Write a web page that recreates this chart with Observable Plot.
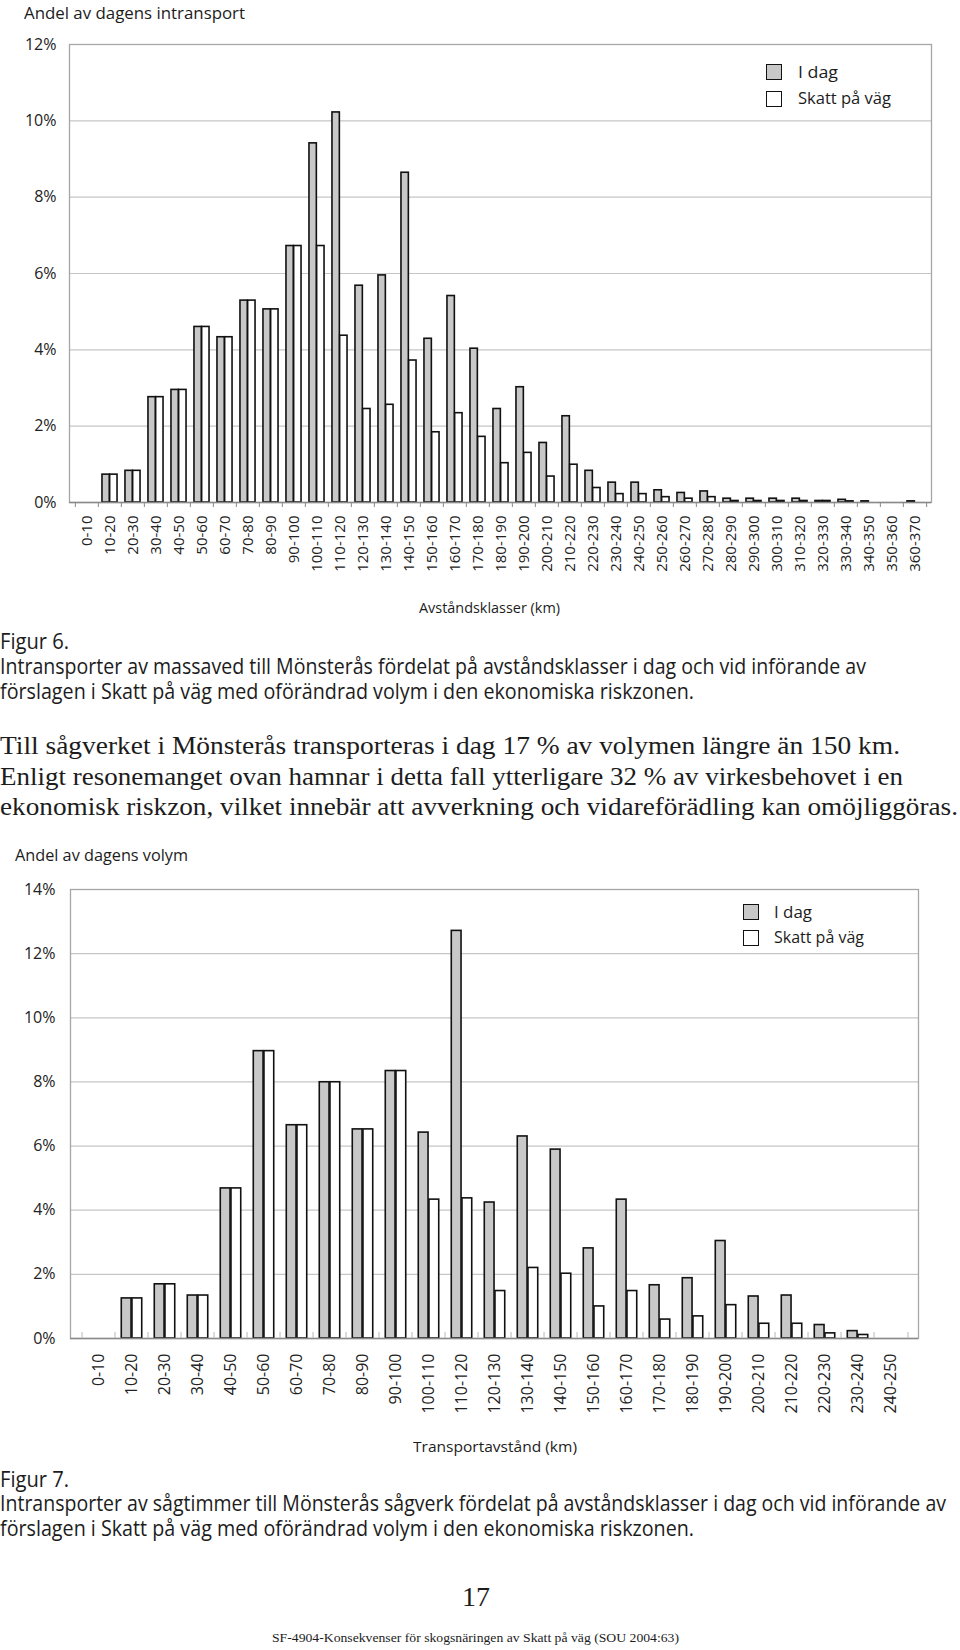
<!DOCTYPE html>
<html><head><meta charset="utf-8">
<script src="https://cdn.jsdelivr.net/npm/d3@7"></script>
<script src="https://cdn.jsdelivr.net/npm/@observablehq/plot@0.6"></script>
<style>
html,body{margin:0;padding:0;background:#fff;overflow:hidden}
#page{position:relative;width:960px;height:1650px;overflow:hidden}
#page svg{position:absolute;left:0}
.t{position:absolute;white-space:nowrap;line-height:1;color:#1c1c1c}
.sw{position:absolute;box-sizing:border-box;border:1.6px solid #111}
</style></head><body><div id="page"></div>
<script>
// ---- Figur 6 data ----
const cats1 = ["0-10","10-20","20-30","30-40","40-50","50-60","60-70","70-80","80-90","90-100","100-110","110-120","120-130","130-140","140-150","150-160","160-170","170-180","180-190","190-200","200-210","210-220","220-230","230-240","240-250","250-260","260-270","270-280","280-290","290-300","300-310","310-320","320-330","330-340","340-350","350-360","360-370"];
const idag1 = [0,0.73,0.83,2.76,2.95,4.60,4.33,5.29,5.06,6.72,9.41,10.22,5.68,5.95,8.64,4.29,5.41,4.03,2.45,3.02,1.56,2.26,0.83,0.52,0.52,0.32,0.25,0.29,0.10,0.10,0.10,0.10,0.04,0.07,0.03,0,0.03];
const skatt1 = [0,0.73,0.83,2.76,2.95,4.60,4.33,5.29,5.06,6.72,6.72,4.37,2.45,2.56,3.72,1.84,2.34,1.72,1.03,1.30,0.68,0.99,0.38,0.22,0.22,0.14,0.10,0.14,0.04,0.04,0.04,0.04,0.04,0.03,0,0,0];
const yTicks1 = [0,2,4,6,8,10,12];

// ---- Figur 7 data ----
const cats2 = ["0-10","10-20","20-30","30-40","40-50","50-60","60-70","70-80","80-90","90-100","100-110","110-120","120-130","130-140","140-150","150-160","160-170","170-180","180-190","190-200","200-210","210-220","220-230","230-240","240-250"];
const idag2 = [0,1.25,1.69,1.34,4.68,8.96,6.65,7.99,6.52,8.34,6.42,12.71,4.24,6.30,5.89,2.81,4.33,1.66,1.88,3.04,1.31,1.34,0.42,0.23,0];
const skatt2 = [0,1.25,1.69,1.34,4.68,8.96,6.65,7.99,6.52,8.34,4.33,4.37,1.48,2.20,2.02,1.00,1.48,0.59,0.69,1.04,0.46,0.46,0.16,0.11,0];
const yTicks2 = [0,2,4,6,8,10,12,14];

const seriesNames = ["I dag","Skatt på väg"];
const page = document.getElementById("page");
const SANS = "'Open Sans', 'Noto Sans', sans-serif";
const SERIF = "'Liberation Serif', 'DejaVu Serif', serif";

function chart(o) {
  const {cats, a, b, ticks, width, height, ml, mr, mt, mb, xFont, xPad, yPad, groupPad, tickUp} = o;
  const yMax = ticks[ticks.length - 1];
  const rowsA = cats.map((c, i) => ({cat: c, v: a[i]})).filter(d => d.v > 0);
  const rowsB = cats.map((c, i) => ({cat: c, v: b[i]})).filter(d => d.v > 0);
  const bw = (width - ml - mr) / cats.length;
  const pad = groupPad * bw, half = bw / 2;
  const last = [cats[cats.length - 1]];
  const tickOpts = tickUp
    ? {y1: 0, y2: 0, insetTop: -6, stroke: "#b8b8b8"}
    : {y1: 0, y2: 0, insetBottom: -5, stroke: "#888"};
  return Plot.plot({
    width, height, marginLeft: ml, marginRight: mr, marginTop: mt, marginBottom: mb,
    style: {fontFamily: SANS, fontSize: "16px", color: "#222", background: "transparent"},
    x: {type: "band", domain: cats, padding: 0, label: null},
    y: {domain: [0, yMax], label: null},
    marks: [
      Plot.ruleY(ticks.filter(t => t > 0 && t < yMax), {stroke: "#c6c6c6", strokeWidth: 1.2}),
      Plot.frame({stroke: "#a6a6a6", strokeWidth: 1.3}),
      Plot.barY(rowsA, {x: "cat", y: "v", fill: "#c8c8c8", stroke: "#111", strokeWidth: 1.6, insetLeft: pad, insetRight: half}),
      Plot.barY(rowsB, {x: "cat", y: "v", fill: "#fff", stroke: "#111", strokeWidth: 1.6, insetLeft: half, insetRight: pad}),
      Plot.ruleY([0], {stroke: "#8a8a8a", strokeWidth: 1.4}),
      Plot.ruleX(cats, {x: d => d, dx: -half, ...tickOpts}),
      Plot.ruleX(last, {x: d => d, dx: half, ...tickOpts}),
      Plot.axisY({ticks, tickFormat: d => d + "%", tickSize: 0, tickPadding: yPad, fontSize: 16}),
      Plot.axisX({tickSize: 0, tickRotate: -90, tickPadding: xPad, fontSize: xFont})
    ]
  });
}

const c1 = chart({cats: cats1, a: idag1, b: skatt1, ticks: yTicks1, width: 960, height: 620,
  ml: 69, mr: 29, mt: 44, mb: 118, xFont: 15, xPad: 13, yPad: 13, groupPad: 0.17, tickUp: false});
c1.style.top = "0px";
page.appendChild(c1);

const c2 = chart({cats: cats2, a: idag2, b: skatt2, ticks: yTicks2, width: 960, height: 620,
  ml: 70, mr: 42, mt: 19, mb: 152, xFont: 16, xPad: 15, yPad: 15, groupPad: 0.185, tickUp: true});
c2.style.top = "870px";
page.appendChild(c2);

function txt(str, o) {
  const d = document.createElement("div");
  d.className = "t";
  d.textContent = str;
  d.style.fontSize = o.size + "px";
  d.style.fontFamily = o.family;
  d.style.top = (o.cy - o.size / 2) + "px";
  d.style.left = "0px";
  page.appendChild(d);
  const actual = d.getBoundingClientRect().width;
  const s = o.w ? o.w / actual : 1;
  const left = o.align === "center" ? o.x - actual * s / 2 : o.x;
  d.style.left = left + "px";
  d.style.transformOrigin = "0 50%";
  d.style.transform = `scaleX(${s})`;
}
function swatch(x, y, fill) {
  const d = document.createElement("div");
  d.className = "sw";
  d.style.left = x + "px"; d.style.top = y + "px";
  d.style.width = "16px"; d.style.height = "16px";
  d.style.background = fill;
  page.appendChild(d);
}

// Figur 6 texts
txt("Andel av dagens intransport", {x: 24, cy: 13, size: 16, family: SANS, w: 221});
swatch(766, 64, "#c8c8c8");
swatch(766, 91, "#fff");
txt(seriesNames[0], {x: 798, cy: 72, size: 16, family: SANS, w: 40});
txt(seriesNames[1], {x: 798, cy: 98, size: 16, family: SANS, w: 93});
txt("Avståndsklasser (km)", {x: 489, cy: 607, size: 15, family: SANS, w: 141, align: "center"});
txt("Figur 6.", {x: 0, cy: 641, size: 21, family: SANS, w: 69});
txt("Intransporter av massaved till Mönsterås fördelat på avståndsklasser i dag och vid införande av", {x: 0, cy: 666, size: 21, family: SANS, w: 866});
txt("förslagen i Skatt på väg med oförändrad volym i den ekonomiska riskzonen.", {x: 0, cy: 691, size: 21, family: SANS, w: 694});

// Body text
txt("Till sågverket i Mönsterås transporteras i dag 17 % av volymen längre än 150 km.", {x: 0, cy: 745, size: 25, family: SERIF, w: 900});
txt("Enligt resonemanget ovan hamnar i detta fall ytterligare 32 % av virkesbehovet i en", {x: 0, cy: 776, size: 25, family: SERIF, w: 903});
txt("ekonomisk riskzon, vilket innebär att avverkning och vidareförädling kan omöjliggöras.", {x: 0, cy: 806, size: 25, family: SERIF, w: 958});

// Figur 7 texts
txt("Andel av dagens volym", {x: 15, cy: 855, size: 16, family: SANS, w: 173});
swatch(743, 904, "#c8c8c8");
swatch(743, 930, "#fff");
txt(seriesNames[0], {x: 774, cy: 912, size: 16, family: SANS, w: 38});
txt(seriesNames[1], {x: 774, cy: 937, size: 16, family: SANS, w: 90});
txt("Transportavstånd (km)", {x: 495, cy: 1446, size: 15, family: SANS, w: 164, align: "center"});
txt("Figur 7.", {x: 0, cy: 1479, size: 21, family: SANS, w: 69});
txt("Intransporter av sågtimmer till Mönsterås sågverk fördelat på avståndsklasser i dag och vid införande av", {x: 0, cy: 1503, size: 21, family: SANS, w: 946});
txt("förslagen i Skatt på väg med oförändrad volym i den ekonomiska riskzonen.", {x: 0, cy: 1528, size: 21, family: SANS, w: 694});

// Page footer
txt("17", {x: 476, cy: 1597, size: 28, family: SERIF, align: "center"});
txt("SF-4904-Konsekvenser för skogsnäringen av Skatt på väg (SOU 2004:63)", {x: 475, cy: 1637, size: 13, family: SERIF, w: 407, align: "center"});
</script></body></html>
